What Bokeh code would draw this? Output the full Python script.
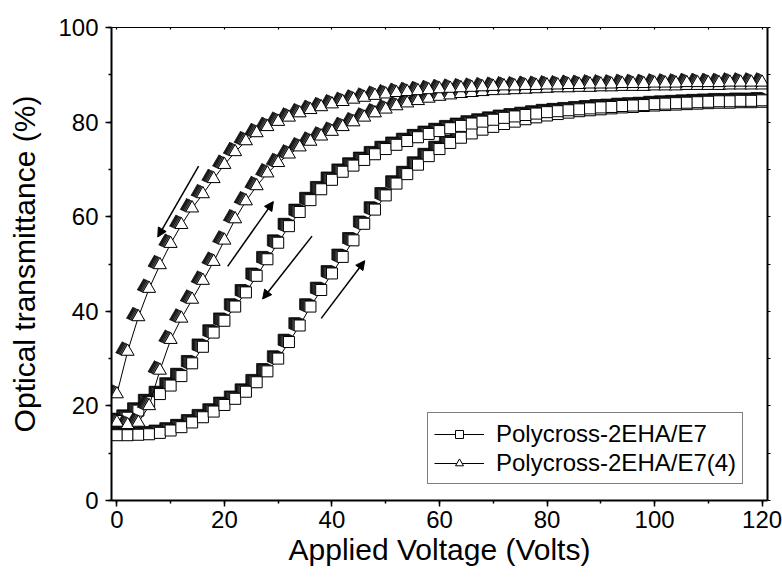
from bokeh.plotting import figure
from bokeh.models import (Range1d, LinearAxis, SingleIntervalTicker, FixedTicker, Legend, LegendItem,
                          Arrow, NormalHead, ColumnDataSource)
from bokeh.transform import dodge
from bokeh.embed import file_html
from bokeh.resources import INLINE

# ---------------- data ----------------
voltage = list(range(0, 122, 2))

sq_up = [13.8, 13.8, 13.9, 14.0, 14.3, 14.8, 15.5, 16.5, 17.6, 18.8,
         20.2, 21.5, 23.0, 25.0, 27.3, 30.0, 33.5, 37.0, 41.0, 44.5,
         48.0, 51.5, 55.0, 58.5, 61.5, 64.5, 67.0, 69.0, 71.0, 72.8,
         74.3, 75.6, 76.7, 77.6, 78.4, 79.0, 79.6, 80.1, 80.6, 81.0,
         81.4, 81.7, 82.0, 82.3, 82.5, 82.7, 82.9, 83.1, 83.2, 83.4,
         83.5, 83.6, 83.7, 83.8, 83.9, 84.0, 84.1, 84.1, 84.2, 84.2, 84.3]

sq_down = [16.8, 17.5, 19.0, 20.8, 22.5, 24.3, 26.3, 29.0, 32.5, 35.5,
           38.0, 41.0, 44.0, 47.5, 51.0, 54.5, 58.0, 61.0, 63.5, 65.8,
           67.8, 69.5, 70.8, 72.0, 73.2, 74.3, 75.2, 76.0, 76.8, 77.5,
           78.1, 78.7, 79.2, 79.7, 80.1, 80.5, 80.9, 81.2, 81.5, 81.8,
           82.1, 82.3, 82.5, 82.7, 82.9, 83.1, 83.2, 83.4, 83.5, 83.6,
           83.8, 83.9, 84.0, 84.1, 84.2, 84.3, 84.4, 84.4, 84.5, 84.5, 84.6]

tri_up = [16.5, 16.0, 16.5, 20.0, 27.5, 34.0, 38.5, 42.5, 46.5, 50.5,
          55.0, 59.5, 63.3, 66.5, 69.2, 71.4, 73.2, 74.7, 75.9, 77.0,
          78.0, 79.0, 80.0, 81.0, 81.9, 82.7, 83.4, 84.0, 84.5, 85.0,
          85.4, 85.7, 86.0, 86.2, 86.4, 86.6, 86.7, 86.8, 86.9, 87.0,
          87.1, 87.2, 87.2, 87.3, 87.3, 87.4, 87.4, 87.5, 87.5, 87.5,
          87.6, 87.6, 87.6, 87.7, 87.7, 87.7, 87.7, 87.8, 87.8, 87.8, 87.8]

tri_down = [22.5, 31.5, 38.8, 44.8, 49.8, 54.3, 58.3, 61.8, 64.8, 68.0,
            71.0, 73.7, 76.0, 77.7, 79.0, 80.1, 81.0, 81.9, 82.6, 83.2,
            83.8, 84.3, 84.8, 85.2, 85.6, 85.9, 86.2, 86.4, 86.6, 86.8,
            87.0, 87.1, 87.2, 87.3, 87.4, 87.5, 87.6, 87.6, 87.7, 87.7,
            87.8, 87.8, 87.9, 87.9, 88.0, 88.0, 88.0, 88.1, 88.1, 88.1,
            88.2, 88.2, 88.2, 88.3, 88.3, 88.3, 88.3, 88.4, 88.4, 88.4, 88.4]

label_sq = "Polycross-2EHA/E7"
label_tri = "Polycross-2EHA/E7(4)"

arrow_x_start = [15.2, 20.6, 36.3, 38.0]
arrow_y_start = [70.7, 49.5, 55.9, 38.5]
arrow_x_end = [7.6, 29.1, 27.1, 46.1]
arrow_y_end = [55.7, 63.2, 42.6, 50.7]

x_title = "Applied Voltage (Volts)"
y_title = "Optical transmittance (%)"

x_frame_ticks = list(range(0, 130, 10))
y_frame_ticks = list(range(0, 110, 10))

FONT = "Liberation Sans"

# ---------------- figure ----------------
p = figure(width=782, height=580, output_backend="svg", toolbar_location=None,
           x_range=Range1d(-1, 121), y_range=Range1d(0, 100),
           x_axis_location=None, y_axis_location=None,
           min_border_left=111, min_border_right=15, min_border_top=27, min_border_bottom=80)
p.grid.visible = False
p.outline_line_color = None
p.background_fill_color = "white"
p.border_fill_color = "white"

xt = SingleIntervalTicker(interval=20, num_minor_ticks=2)
yt = SingleIntervalTicker(interval=20, num_minor_ticks=2)

def style_main(ax):
    ax.axis_line_width = 2
    ax.axis_line_color = "black"
    ax.major_tick_out = 6
    ax.major_tick_in = 0
    ax.minor_tick_out = 3
    ax.minor_tick_in = 0
    ax.major_tick_line_width = 1.5
    ax.minor_tick_line_width = 1.5
    ax.major_label_text_font = FONT
    ax.major_label_text_font_size = "24px"
    ax.major_label_text_color = "black"
    ax.axis_label_text_font = FONT
    ax.axis_label_text_font_size = "30px"
    ax.axis_label_text_font_style = "normal"
    ax.axis_label_text_color = "black"

xb = LinearAxis(ticker=xt, axis_label=x_title)
style_main(xb)
xb.major_label_standoff = 4
xb.axis_label_standoff = 2
p.add_layout(xb, "below")

yl = LinearAxis(ticker=yt, axis_label=y_title)
style_main(yl)
yl.major_label_standoff = 7
yl.axis_label_standoff = 14
p.add_layout(yl, "left")

def style_frame(ax, lw, tin, tout):
    ax.axis_line_width = lw
    ax.major_tick_in = 0
    ax.major_tick_out = 0
    ax.minor_tick_in = tin
    ax.minor_tick_out = tout
    ax.minor_tick_line_width = 1.2

xa = LinearAxis(ticker=FixedTicker(ticks=[], minor_ticks=x_frame_ticks))
style_frame(xa, 1, 2, 0)
p.add_layout(xa, "above")

yr = LinearAxis(ticker=FixedTicker(ticks=[], minor_ticks=y_frame_ticks))
style_frame(yr, 2, 0, 3)
p.add_layout(yr, "right")

# ---------------- series ----------------
src = ColumnDataSource(dict(v=voltage, su=sq_up, sd=sq_down, tu=tri_up, td=tri_down))

shadow_layers = [(-1.0, 0.5, "#202020"), (-0.75, 0.38, "#3a3a3a"),
                 (-0.5, 0.25, "#555555"), (-0.25, 0.12, "#777777")]

renderers = {}
for col, marker, size in [("su", "square", 11), ("sd", "square", 11),
                          ("tu", "triangle", 13), ("td", "triangle", 13)]:
    ln = p.line("v", col, source=src, line_color="black", line_width=1)
    for dx, dy, c in shadow_layers:
        p.scatter(x=dodge("v", dx), y=dodge(col, dy), source=src, marker=marker, size=size,
                  fill_color=c, line_color="black", line_width=0.7)
    sc = p.scatter("v", col, source=src, marker=marker, size=size,
                   fill_color="white", line_color="black", line_width=1)
    renderers[col] = (ln, sc)

# ---------------- arrows ----------------
asrc = ColumnDataSource(dict(xs=arrow_x_start, ys=arrow_y_start, xe=arrow_x_end, ye=arrow_y_end))
p.add_layout(Arrow(x_start="xs", y_start="ys", x_end="xe", y_end="ye", source=asrc,
                   line_color="black", line_width=1.5,
                   end=NormalHead(size=9, fill_color="black", line_color="black", line_width=1)))

# ---------------- legend ----------------
legend = Legend(items=[LegendItem(label=label_sq, renderers=list(renderers["su"])),
                       LegendItem(label=label_tri, renderers=list(renderers["tu"]))],
                location=(316, 16))
legend.label_text_font = FONT
legend.label_text_font_size = "24px"
legend.label_text_color = "black"
legend.border_line_color = "black"
legend.border_line_width = 1
legend.background_fill_color = "white"
legend.background_fill_alpha = 1
legend.padding = 6
legend.margin = 0
legend.spacing = 0
legend.glyph_width = 50
legend.glyph_height = 20
legend.label_height = 29
legend.label_standoff = 12
p.add_layout(legend, "center")

open("out.html", "w").write(file_html(p, INLINE))
